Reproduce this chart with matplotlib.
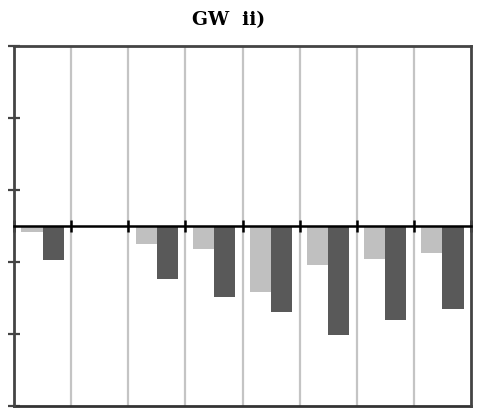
import numpy as np
import matplotlib.pyplot as plt

# values (arbitrary units, axis runs -1..1)
groups = np.arange(8)
light_vals = [-0.033, 0.0, -0.10, -0.128, -0.367, -0.215, -0.182, -0.148]
dark_vals = [-0.189, 0.0, -0.294, -0.394, -0.478, -0.604, -0.52, -0.459]
y_ticks = [-1, -0.6, -0.2, 0.2, 0.6, 1]

fig = plt.figure(figsize=(4.8, 4.19), dpi=100)
ax = fig.add_axes([14 / 480, 13 / 419, 457 / 480, 360 / 419])

w = 0.37
ax.bar(groups + 0.5 - w / 2, light_vals, width=w, color='#c0c0c0', zorder=2)
ax.bar(groups + 0.5 + w / 2, dark_vals, width=w, color='#595959', zorder=2)

# vertical separators between groups
for xb in range(1, 8):
    ax.axvline(xb, color='#c4c4c4', lw=1.6, zorder=1)

ax.set_xlim(0, 8)
ax.set_ylim(-1, 1)

# x axis sits on zero
ax.spines['bottom'].set_position(('data', 0))
ax.spines['bottom'].set_color('black')
ax.spines['bottom'].set_linewidth(1.8)
ax.spines['bottom'].set_zorder(3)
ax.plot([0, 1], [0, 0], transform=ax.transAxes, color='#333333', lw=2, clip_on=False)
for s in ['left', 'top', 'right']:
    ax.spines[s].set_color('#444444')
    ax.spines[s].set_linewidth(2)

ax.set_xticks(np.arange(9))
ax.set_yticks(y_ticks)
ax.tick_params(axis='x', direction='inout', length=8, width=1.8, color='black',
               labelbottom=False)
ax.tick_params(axis='y', direction='inout', length=8, width=1.6, color='#444444',
               labelleft=False)

fig.text(229 / 480, 399 / 419, 'GW  ii)', ha='center', va='center',
         fontsize=13.5, fontweight='bold', family='DejaVu Serif')

fig.savefig('out.png', dpi=100)
